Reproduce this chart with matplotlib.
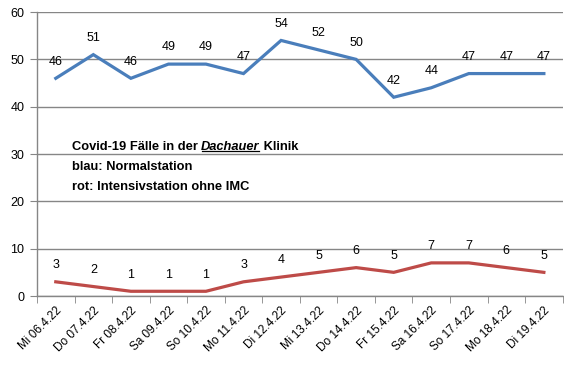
from matplotlib import pyplot as plt
from matplotlib.lines import Line2D
import numpy as np

tage = ['Mi 06.4.22', 'Do 07.4.22', 'Fr 08.4.22', 'Sa 09.4.22', 'So 10.4.22', 'Mo 11.4.22',
        'Di 12.4.22', 'Mi 13.4.22', 'Do 14.4.22', 'Fr 15.4.22', 'Sa 16.4.22', 'So 17.4.22',
        'Mo 18.4.22', 'Di 19.4.22']
normalstation = [46, 51, 46, 49, 49, 47, 54, 52, 50, 42, 44, 47, 47, 47]
intensivstation = [3, 2, 1, 1, 1, 3, 4, 5, 6, 5, 7, 7, 6, 5]

plt.rcParams['font.family'] = ['Liberation Sans', 'DejaVu Sans']

fig = plt.figure(figsize=(5.64, 3.65), dpi=100)
ax = fig.add_axes([0.0656, 0.189, 0.932, 0.778])

x = np.arange(len(tage))
ax.plot(x, normalstation, color='#4a7ebb', lw=2.3, solid_joinstyle='miter')
ax.plot(x, intensivstation, color='#be4b48', lw=2.3, solid_joinstyle='miter')

for xi, v in zip(x, normalstation):
    ax.annotate(str(v), (xi, v), xytext=(0, 12), textcoords='offset points',
                ha='center', va='center', fontsize=9)
for xi, v in zip(x, intensivstation):
    ax.annotate(str(v), (xi, v), xytext=(0, 12), textcoords='offset points',
                ha='center', va='center', fontsize=9)

ax.set_xlim(-0.5, len(tage) - 0.5)
ax.set_ylim(0, 60)
ax.set_yticks(range(0, 61, 10))
ax.yaxis.grid(True, color='#868686', lw=1)
ax.set_axisbelow(True)
for s in ('top', 'right'):
    ax.spines[s].set_visible(False)
for s in ('left', 'bottom'):
    ax.spines[s].set_color('#868686')
    ax.spines[s].set_linewidth(1)

ax.set_xticks(x)
ax.set_xticklabels(tage, rotation=45, ha='right', va='top', rotation_mode='anchor', fontsize=8.5)
ax.set_xticks(np.arange(-0.5, len(tage)), minor=True)
ax.tick_params(axis='x', which='major', length=0, pad=6)
ax.tick_params(axis='x', which='minor', length=5, color='#868686', direction='out')
ax.tick_params(axis='y', length=5, color='#868686', labelsize=9, pad=4)

# Textblock
fs = 9.3
t1 = ax.text(0.066, 0.515, 'Covid-19 Fälle in der ', transform=ax.transAxes,
             fontsize=fs, fontweight='bold', va='baseline')
t2 = ax.annotate('Dachauer', xy=(1, 0), xycoords=t1, fontsize=fs, fontweight='bold',
                 fontstyle='italic', va='bottom', ha='left')
t3 = ax.annotate(' Klinik', xy=(1, 0), xycoords=t2, fontsize=fs, fontweight='bold',
                 va='bottom', ha='left')
ax.text(0.066, 0.445, 'blau: Normalstation', transform=ax.transAxes,
        fontsize=fs, fontweight='bold', va='baseline')
ax.text(0.066, 0.375, 'rot: Intensivstation ohne IMC', transform=ax.transAxes,
        fontsize=fs, fontweight='bold', va='baseline')

fig.canvas.draw()
bb = t2.get_window_extent()
inv = fig.transFigure.inverted()
p0 = inv.transform((bb.x0 + 1, bb.y0 + 2))
p1 = inv.transform((bb.x1 - 1, bb.y0 + 2))
fig.add_artist(Line2D([p0[0], p1[0]], [p0[1], p1[1]], color='black', lw=0.9))

plt.savefig('out.png', dpi=100)
